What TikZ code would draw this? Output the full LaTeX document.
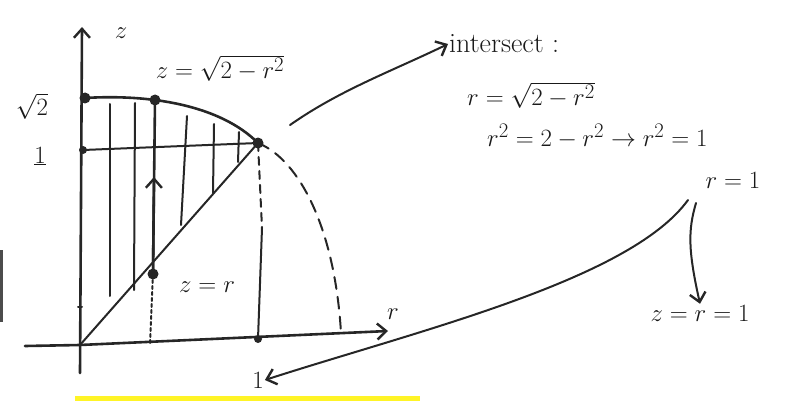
\documentclass[tikz,border=0pt]{standalone}
\usetikzlibrary{arrows.meta}
\begin{document}
\begin{tikzpicture}[x=1pt,y=-1pt,
  ink/.style={line width=2.6pt,black!85,line cap=round},
  thin ink/.style={line width=2pt,black!85,line cap=round},
  dot/.style={circle,fill=black!85,inner sep=0pt,minimum size=11pt},
  hand/.style={font=\fontsize{28}{30}\selectfont,text=black!90,inner sep=1pt},
  tip/.style={-{Straight Barb[length=9pt,width=16pt,line width=2.4pt]}}]
\useasboundingbox (0,0) rectangle (791,401);
% yellow highlight
\fill[yellow!85!white] (75,396) rectangle (420,401);
% edge mark
\draw[line width=3pt,black!70] (1,250) -- (1,322);

% points
\coordinate (O) at (80,345);
\node[dot] (s2) at (85,98) {};
\node[dot,minimum size=8pt] (one) at (83,150) {};
\node[dot] (top) at (155,100) {};
\node[dot] (P) at (258,143) {};
\node[dot] (mid) at (153,274) {};
\node[dot,minimum size=8pt] (b1) at (258,339) {};
\coordinate (axR) at (388,331);
\coordinate (axL) at (25,346);
\coordinate (zT) at (82,27);
\coordinate (zB) at (80,373);
\coordinate (arcE) at (341,333);
\coordinate (m0) at (150,345);

% axes
\draw[ink,tip] (axL) -- (O) -- (axR);
\draw[ink,tip] (zB) -- (zT);
\draw[thin ink] (78,307) -- (82,307);

% sphere cap curve
\draw[ink] (s2.center) .. controls (150,94) and (220,105) .. (P.center);
% z=1 line
\draw[thin ink] (one.center) -- (P.center);
% cone z=r
\draw[thin ink] (O) -- (P.center);
% hatch lines
\draw[thin ink] (110,104) -- (110,296);
\draw[thin ink] (135,103) -- (134,290);
\draw[thin ink] (187,116) -- (181,225);
\draw[thin ink] (214,124) -- (213,193);
\draw[thin ink] (239,132) -- (238,162);
% arrow line through top and mid
\draw[ink] (mid.center) -- (top.center);
\draw[ink,tip] (mid.center) -- (154,177);
\draw[thin ink,dashed] (mid.center) -- (m0);
% vertical at r=1
\draw[thin ink,dash pattern=on 8pt off 6pt] (P.center) -- (262,228);
\draw[thin ink] (262,228) -- (b1.center);
% dashed continuation
\draw[thin ink,dash pattern=on 12pt off 8pt] (P.center) .. controls (300,160) and (335,230) .. (arcE);

% labels
\node[hand] (zl) at (121,33) {$z$};
\node[hand] (rl) at (393,314) {$r$};
\node[hand] (s2l) at (32,106) {$\sqrt{2}$};
\node[hand] (onel) at (40,156) {$\underline{1}$};
\node[hand] (capl) at (220,68) {$z=\sqrt{2-r^2}$};
\node[hand] (conel) at (207,287) {$z=r$};
\node[hand] (onebl) at (258,380) {$1$};
\node[hand,anchor=west] (inter) at (448,44) {intersect :};
\node[hand,anchor=west] (eq1) at (466,95) {$r=\sqrt{2-r^2}$};
\node[hand,anchor=west] (eq2) at (486,136) {$r^2=2-r^2\rightarrow r^2=1$};
\node[hand] (r1) at (733,180) {$r=1$};
\node[hand] (zr1) at (700,313) {$z=r=1$};

% connectors
\draw[thin ink,tip] (290,125) .. controls (340,90) and (390,72) .. (inter.west);
\draw[thin ink,tip] (696,203) .. controls (688,230) and (688,250) .. (zr1.north);
\draw[thin ink,tip] (688,200) .. controls (630,280) and (420,330) .. (onebl.east);
\end{tikzpicture}
\end{document}
